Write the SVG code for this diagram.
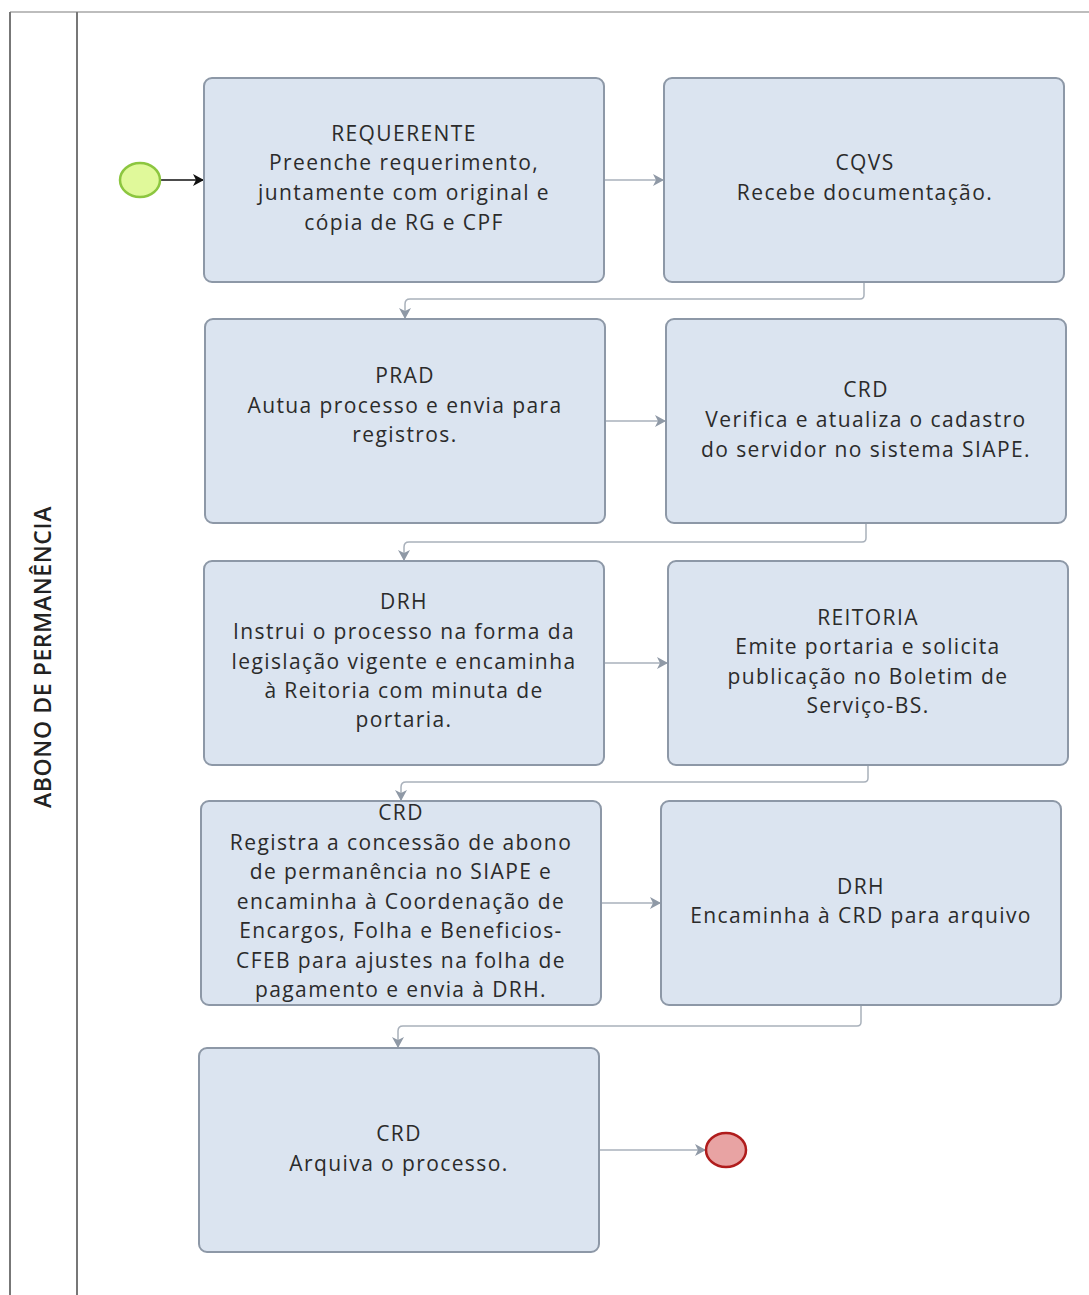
<svg xmlns="http://www.w3.org/2000/svg" width="1089" height="1295" viewBox="0 0 1089 1295">
  <defs>
    <style>
      .task { fill: #dbe4f0; stroke: #8d98a7; stroke-width: 2; }
      .lbl { font-family: "Open Sans", "Liberation Sans", sans-serif; font-size: 21px; letter-spacing: 1.4px; fill: #2b2b2b; text-anchor: middle; }
      .flow { fill: none; stroke: #a9b1bb; stroke-width: 1.5; }
      .pool { fill: none; stroke: #777; stroke-width: 2; }
      .pool-top { fill: none; stroke: #bdbdbd; stroke-width: 2; }
    </style>
    <marker id="arrGray" markerWidth="12" markerHeight="12" refX="11" refY="6" orient="auto" markerUnits="userSpaceOnUse">
      <path d="M0,0 L11,6 L0,12 L3,6 Z" fill="#8f99a6"/>
    </marker>
    <marker id="arrBlack" markerWidth="12" markerHeight="12" refX="11" refY="6" orient="auto" markerUnits="userSpaceOnUse">
      <path d="M0,0 L11,6 L0,12 L3,6 Z" fill="#111"/>
    </marker>
  </defs>

  <!-- pool frame and lane header -->
  <g id="pool">
    <line class="pool-top" x1="10" y1="12" x2="1089" y2="12"/>
    <line class="pool" x1="10" y1="12" x2="10" y2="1295"/>
    <line class="pool" x1="77" y1="12" x2="77" y2="1295"/>
    <text transform="translate(51,657) rotate(-90)" font-family="Open Sans, Liberation Sans, sans-serif" font-size="23" font-weight="600" letter-spacing="0.6" fill="#222" text-anchor="middle">ABONO DE PERMANÊNCIA</text>
  </g>

  <!-- sequence flows -->
  <g id="connectors">
    <line x1="161" y1="180" x2="204" y2="180" stroke="#111" stroke-width="1.5" marker-end="url(#arrBlack)"/>
    <line class="flow" x1="604" y1="180" x2="664" y2="180" marker-end="url(#arrGray)"/>
    <path class="flow" d="M864,282 V295 Q864,299 860,299 H410 Q405,299 405,304 V319" marker-end="url(#arrGray)"/>
    <line class="flow" x1="605" y1="421" x2="666" y2="421" marker-end="url(#arrGray)"/>
    <path class="flow" d="M866,523 V538 Q866,542 862,542 H409 Q404,542 404,547 V561" marker-end="url(#arrGray)"/>
    <line class="flow" x1="604" y1="663" x2="668" y2="663" marker-end="url(#arrGray)"/>
    <path class="flow" d="M868,765 V778 Q868,782 864,782 H406 Q401,782 401,787 V801" marker-end="url(#arrGray)"/>
    <line class="flow" x1="601" y1="903" x2="661" y2="903" marker-end="url(#arrGray)"/>
    <path class="flow" d="M861,1005 V1022 Q861,1026 857,1026 H403 Q398,1026 398,1031 V1048" marker-end="url(#arrGray)"/>
    <line class="flow" x1="599" y1="1150" x2="706" y2="1150" marker-end="url(#arrGray)"/>
  </g>

  <g id="start">
    <ellipse cx="140" cy="180" rx="20" ry="17" fill="#e0f99a" stroke="#8cc63f" stroke-width="2.5"/>
  </g>

  <g id="task-requerente">
    <rect class="task" x="204" y="78" width="400" height="204" rx="8"/>
    <text class="lbl"><tspan x="404" y="141">REQUERENTE</tspan><tspan x="404" y="170">Preenche requerimento,</tspan><tspan x="404" y="200">juntamente com original e</tspan><tspan x="404" y="230">cópia de RG e CPF</tspan></text>
  </g>

  <g id="task-cqvs">
    <rect class="task" x="664" y="78" width="400" height="204" rx="8"/>
    <text class="lbl"><tspan x="865" y="170">CQVS</tspan><tspan x="865" y="200">Recebe documentação.</tspan></text>
  </g>

  <g id="task-prad">
    <rect class="task" x="205" y="319" width="400" height="204" rx="8"/>
    <text class="lbl"><tspan x="405" y="383">PRAD</tspan><tspan x="405" y="413">Autua processo e envia para</tspan><tspan x="405" y="442">registros.</tspan></text>
  </g>

  <g id="task-crd-cadastro">
    <rect class="task" x="666" y="319" width="400" height="204" rx="8"/>
    <text class="lbl"><tspan x="866" y="397">CRD</tspan><tspan x="866" y="427">Verifica e atualiza o cadastro</tspan><tspan x="866" y="457">do servidor no sistema SIAPE.</tspan></text>
  </g>

  <g id="task-drh-instrui">
    <rect class="task" x="204" y="561" width="400" height="204" rx="8"/>
    <text class="lbl"><tspan x="404" y="609">DRH</tspan><tspan x="404" y="639">Instrui o processo na forma da</tspan><tspan x="404" y="669">legislação vigente e encaminha</tspan><tspan x="404" y="698">à Reitoria com minuta de</tspan><tspan x="404" y="727">portaria.</tspan></text>
  </g>

  <g id="task-reitoria">
    <rect class="task" x="668" y="561" width="400" height="204" rx="8"/>
    <text class="lbl"><tspan x="868" y="625">REITORIA</tspan><tspan x="868" y="654">Emite portaria e solicita</tspan><tspan x="868" y="684">publicação no Boletim de</tspan><tspan x="868" y="713">Serviço-BS.</tspan></text>
  </g>

  <g id="task-crd-registra">
    <rect class="task" x="201" y="801" width="400" height="204" rx="8"/>
    <text class="lbl"><tspan x="401" y="820">CRD</tspan><tspan x="401" y="850">Registra a concessão de abono</tspan><tspan x="401" y="879">de permanência no SIAPE e</tspan><tspan x="401" y="909">encaminha à Coordenação de</tspan><tspan x="401" y="938">Encargos, Folha e Beneficios-</tspan><tspan x="401" y="968">CFEB para ajustes na folha de</tspan><tspan x="401" y="997">pagamento e envia à DRH.</tspan></text>
  </g>

  <g id="task-drh-encaminha">
    <rect class="task" x="661" y="801" width="400" height="204" rx="8"/>
    <text class="lbl"><tspan x="861" y="894">DRH</tspan><tspan x="861" y="923">Encaminha à CRD para arquivo</tspan></text>
  </g>

  <g id="task-crd-arquiva">
    <rect class="task" x="199" y="1048" width="400" height="204" rx="8"/>
    <text class="lbl"><tspan x="399" y="1141">CRD</tspan><tspan x="399" y="1171">Arquiva o processo.</tspan></text>
  </g>

  <g id="end">
    <ellipse cx="726" cy="1150" rx="20" ry="17" fill="#e8a3a3" stroke="#b01c1c" stroke-width="2.5"/>
  </g>
</svg>
